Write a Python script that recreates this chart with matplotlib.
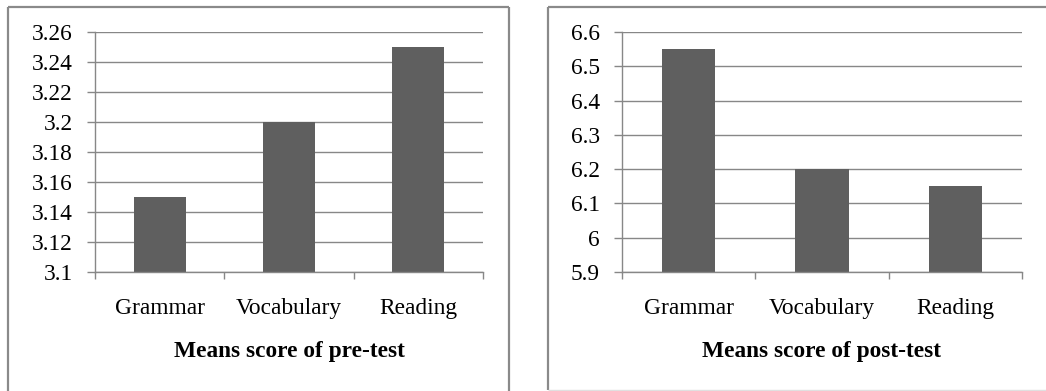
import matplotlib
matplotlib.use("Agg")
import matplotlib.pyplot as plt
from matplotlib.lines import Line2D

categories = ["Grammar", "Vocabulary", "Reading"]
pre_scores = [3.15, 3.20, 3.25]
post_scores = [6.55, 6.20, 6.15]
pre_ticks = [3.1, 3.12, 3.14, 3.16, 3.18, 3.2, 3.22, 3.24, 3.26]
pre_tick_labels = ["3.1", "3.12", "3.14", "3.16", "3.18", "3.2", "3.22", "3.24", "3.26"]
post_ticks = [5.9, 6.0, 6.1, 6.2, 6.3, 6.4, 6.5, 6.6]
post_tick_labels = ["5.9", "6", "6.1", "6.2", "6.3", "6.4", "6.5", "6.6"]
pre_title = "Means score of pre-test"
post_title = "Means score of post-test"

W, H = 1046, 391
DPI = 100
FS = 16.8
plt.rcParams["font.family"] = ["Liberation Serif", "DejaVu Serif"]

fig = plt.figure(figsize=(W / DPI, H / DPI), dpi=DPI)
fig.patch.set_facecolor("white")

BAR = "#5f5f5f"
GRID = "#878787"
FRAME = "#8a8a8a"


def px_rect(x0, y0, x1, y1):
    # pixel box (top-left origin) -> figure fraction [left, bottom, width, height]
    return [x0 / W, 1 - y1 / H, (x1 - x0) / W, (y1 - y0) / H]


def fig_line(xs, ys, color, lw):
    fig.add_artist(Line2D([x / W for x in xs], [1 - y / H for y in ys],
                          transform=fig.transFigure, color=color, lw=lw,
                          solid_capstyle="butt"))


def panel(box, values, ticks, tick_labels, title, title_y):
    ax = fig.add_axes(px_rect(*box))
    x = list(range(len(categories)))
    ax.bar(x, values, width=0.4, color=BAR, zorder=3)
    ax.set_xlim(-0.5, len(categories) - 0.5)
    ax.set_ylim(ticks[0], ticks[-1])
    ax.set_yticks(ticks)
    ax.set_yticklabels(tick_labels, fontsize=FS)
    ax.yaxis.grid(True, color=GRID, lw=1.0, zorder=0)
    ax.set_axisbelow(True)
    for s in ("top", "right"):
        ax.spines[s].set_visible(False)
    for s in ("left", "bottom"):
        ax.spines[s].set_color(GRID)
        ax.spines[s].set_linewidth(1.0)
        ax.spines[s].set_zorder(4)
    ax.tick_params(axis="y", direction="out", length=6, width=1.0,
                   color=GRID, pad=10)
    ax.set_xticks([i - 0.5 for i in range(len(categories) + 1)])
    ax.set_xticklabels([])
    ax.tick_params(axis="x", which="major", direction="out", length=5,
                   width=1.0, color=GRID)
    ax.set_xticks(x, minor=True)
    ax.set_xticklabels(categories, minor=True, fontsize=FS)
    ax.tick_params(axis="x", which="minor", length=0, pad=19)
    cx = (box[0] + box[2]) / 2
    fig.text(cx / W, 1 - title_y / H, title, ha="center", va="center",
             fontsize=FS, fontweight="bold")
    return ax


panel((95, 32, 483, 272), pre_scores, pre_ticks, pre_tick_labels,
      pre_title, 352)
panel((622, 32, 1022, 272), post_scores, post_ticks, post_tick_labels,
      post_title, 352)

# chart-area frames
fig_line([8, 8], [400, 7], FRAME, 1.6)
fig_line([8, 509], [7, 7], FRAME, 1.6)
fig_line([509, 509], [7, 400], FRAME, 1.6)
fig_line([548, 548], [390, 7], FRAME, 1.6)
fig_line([548, 1050], [7, 7], FRAME, 1.6)
fig_line([548, 1050], [390, 390], "#e0e0e0", 1.0)

fig.savefig("out.png", dpi=DPI, facecolor="white")
